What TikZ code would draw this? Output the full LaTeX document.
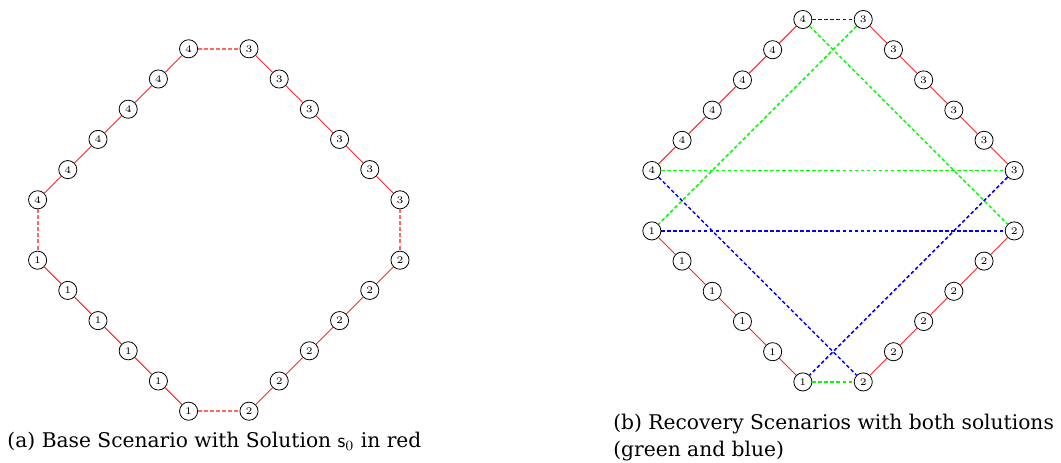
\documentclass[tikz,border=0pt]{standalone}
\usepackage{fontspec}
\newfontfamily\capfont{DejaVu Serif}

\begin{document}
\begin{tikzpicture}[x=15pt,y=15pt,
  vtx/.style={circle,draw,minimum size=9pt,inner sep=0pt,font=\tiny},
  chain/.style={red!85,line width=0.45pt},
  gap/.style={red!60,line width=0.9pt,dash pattern=on 2pt off 1pt},
  solg/.style={green,line width=0.75pt,dash pattern=on 1.8pt off 1.2pt},
  solb/.style={blue,line width=0.75pt,dash pattern=on 1.8pt off 1.2pt},
  capt/.style={font=\capfont\fontsize{10.05}{13.4}\selectfont,inner sep=0pt,anchor=west,align=left}]
  \useasboundingbox (-7.245,-7.715) rectangle (27.888,7.616);
  % both diagrams: four chains of six nodes
  \foreach \p/\dx/\dy in {a/0/0,b/20.34/0.97} {
    \foreach \i in {0,...,5} {
      \node[vtx] (\p1-\i) at (\dx-6+\i,\dy-1-\i) {1};
      \node[vtx] (\p2-\i) at (\dx+6-\i,\dy-1-\i) {2};
      \node[vtx] (\p3-\i) at (\dx+6-\i,\dy+1+\i) {3};
      \node[vtx] (\p4-\i) at (\dx-6+\i,\dy+1+\i) {4};
    }
    \foreach \k in {1,...,4}
      \foreach \i [count=\j] in {0,...,4}
        \draw[chain] (\p\k-\i) -- (\p\k-\j);
  }
  % base solution
  \draw[gap] (a4-0) -- (a1-0);
  \draw[gap] (a3-0) -- (a2-0);
  \draw[gap] (a4-5) -- (a3-5);
  \draw[gap] (a1-5) -- (a2-5);
  % recovery solutions
  \draw[solg] (b4-5) -- (b2-0);
  \draw[solg] (b3-5) -- (b1-0);
  \draw[solg] (b4-0) -- (b3-0);
  \draw[solg] (b1-5) -- (b2-5);
  \draw[solb] (b4-5) -- (b3-5);
  \draw[solb] (b1-0) -- (b2-0);
  \draw[solb] (b4-0) -- (b2-5);
  \draw[solb] (b3-0) -- (b1-5);
  % captions
  \node[capt] (capa) at (-7.01,-6.99) {(a) Base Scenario with Solution $\mathsf{s}_0$ in red};
  \node[capt] (capb) at (13.05,-6.87) {(b) Recovery Scenarios with both solutions\\(green and blue)};
\end{tikzpicture}
\end{document}
